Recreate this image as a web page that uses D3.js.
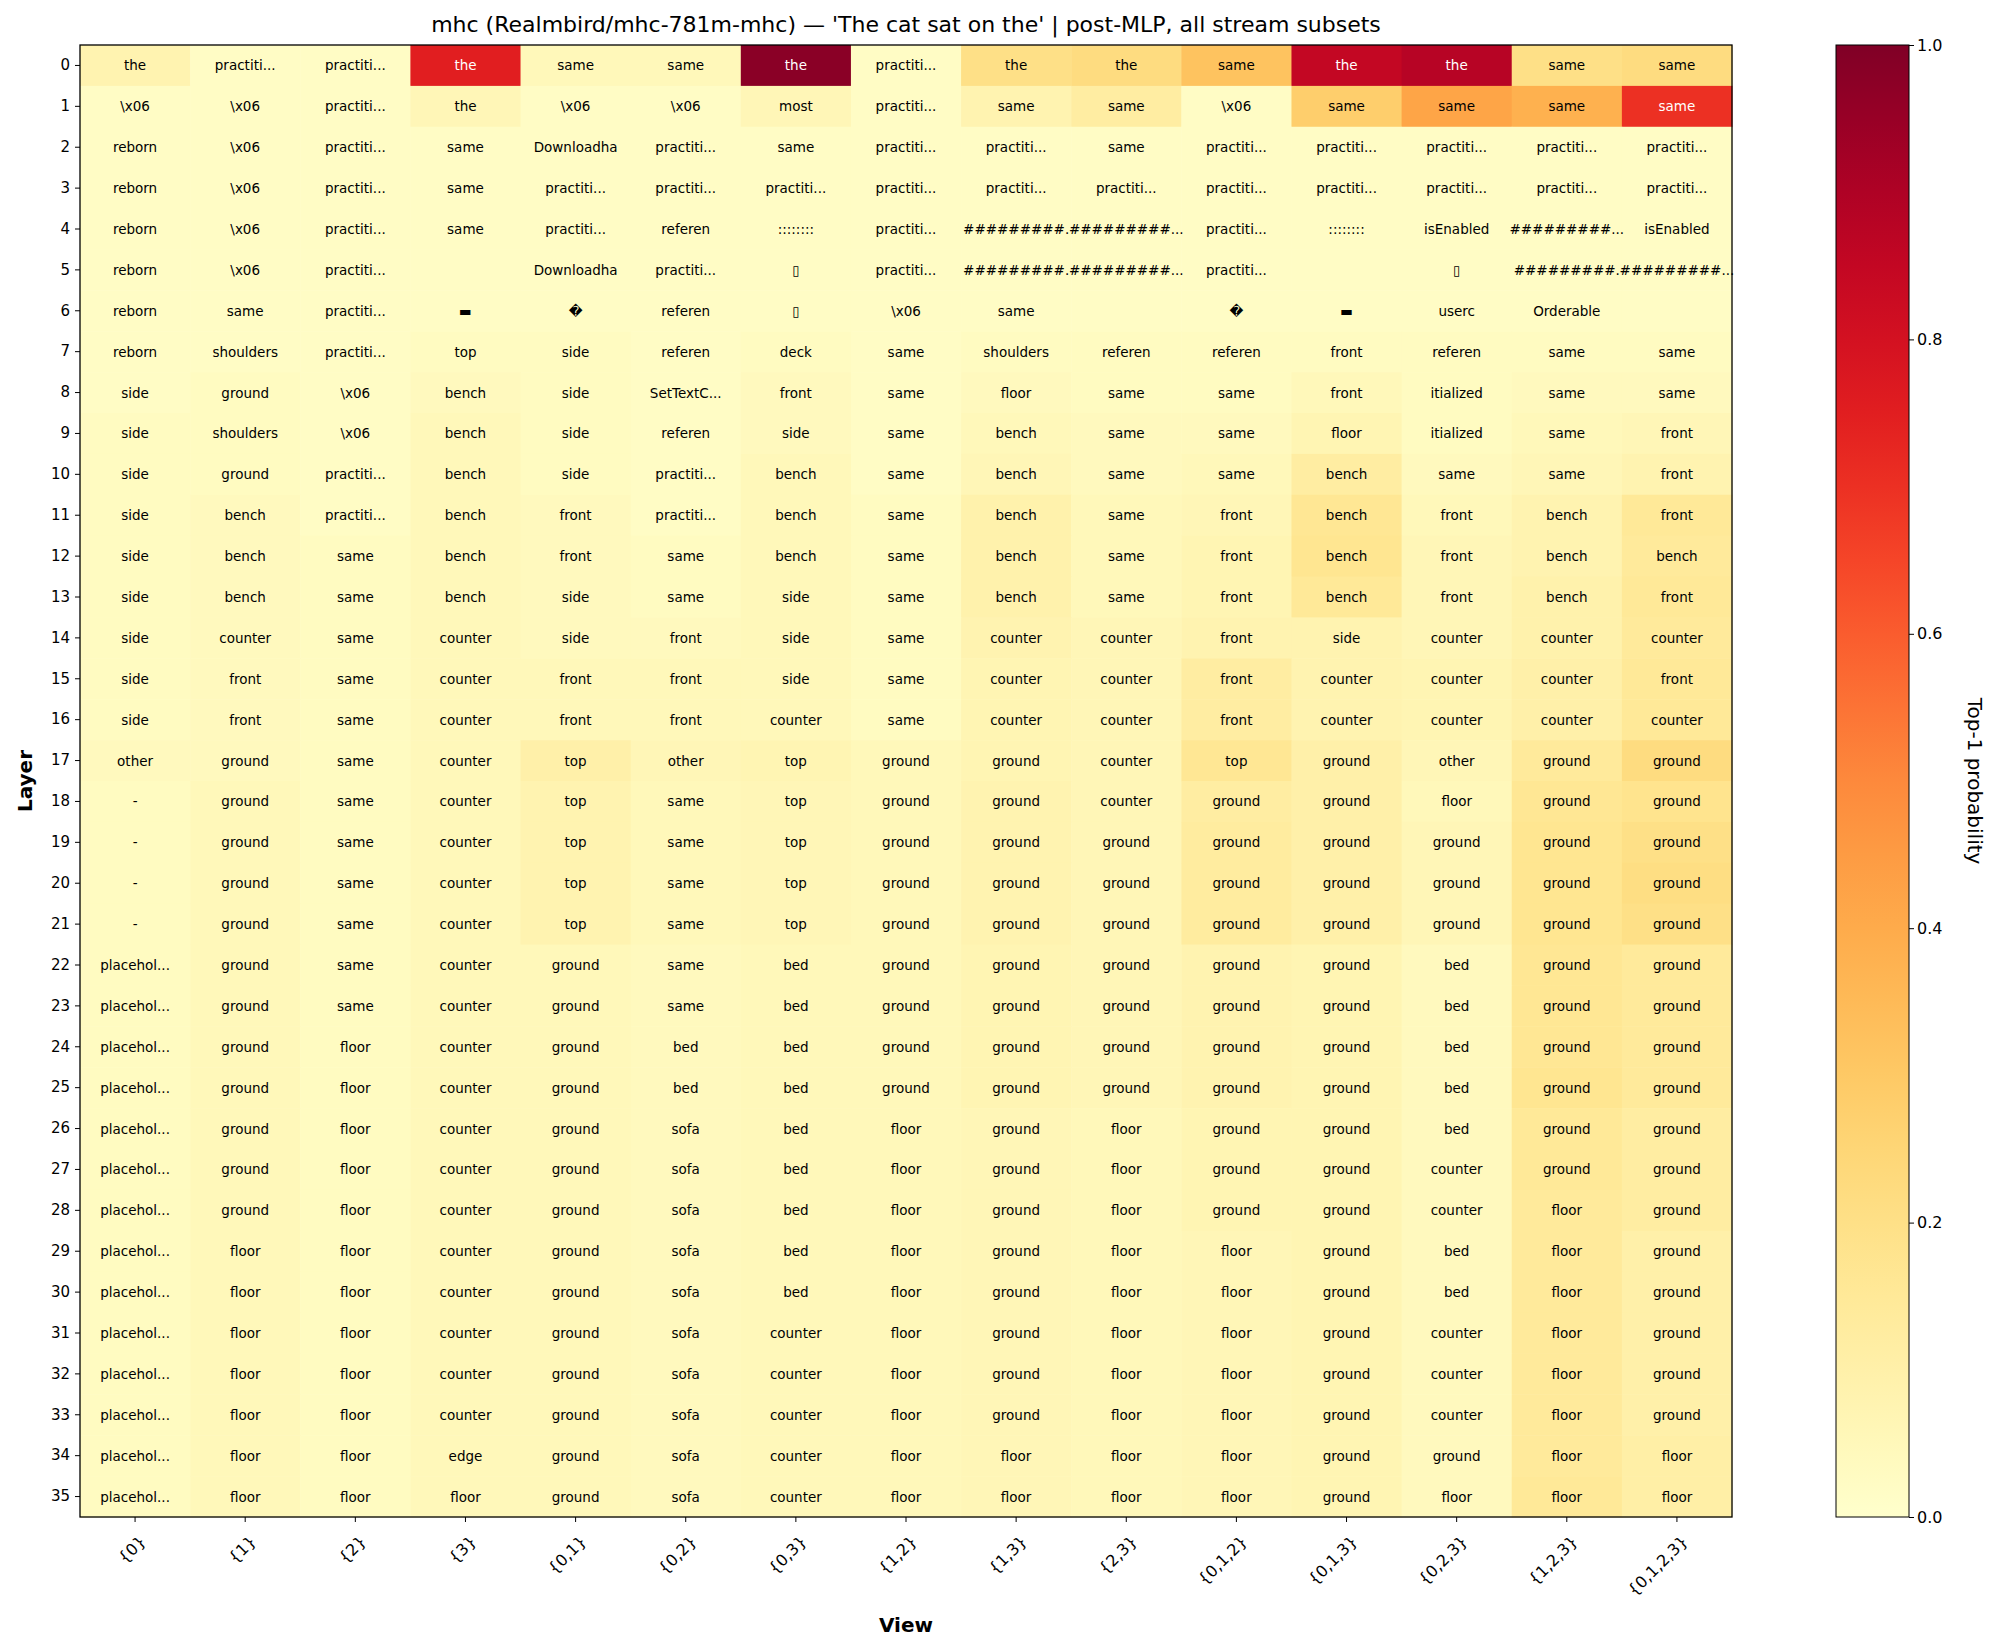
<!DOCTYPE html>
<html><head><meta charset="utf-8">
<script src="https://cdn.jsdelivr.net/npm/d3@7"></script>
<style>body{margin:0;background:#fff}svg{display:block;font-family:"DejaVu Sans",sans-serif}</style>
</head><body><svg id="c" width="1999" height="1652"></svg>
<script>
const views = ["{0}","{1}","{2}","{3}","{0,1}","{0,2}","{0,3}","{1,2}","{1,3}","{2,3}","{0,1,2}","{0,1,3}","{0,2,3}","{1,2,3}","{0,1,2,3}"];
const layers = d3.range(36).map(String);
const P="practiti...", X="\\x06", H1="#########.", H2="#########...", T="\u25AF", Q="\uFFFD", B="\u25AC", PL="placehol...";
const labels = [
["the",P,P,"the","same","same","the",P,"the","the","same","the","the","same","same"],
[X,X,P,"the",X,X,"most",P,"same","same",X,"same","same","same","same"],
["reborn",X,P,"same","Downloadha",P,"same",P,P,"same",P,P,P,P,P],
["reborn",X,P,"same",P,P,P,P,P,P,P,P,P,P,P],
["reborn",X,P,"same",P,"referen","::::::::",P,H1,H2,P,"::::::::","isEnabled",H2,"isEnabled"],
["reborn",X,P,"","Downloadha",P,T,P,H1,H2,P,"",T,H1,H2],
["reborn","same",P,B,Q,"referen",T,X,"same","",Q,B,"userc","Orderable",""],
["reborn","shoulders",P,"top","side","referen","deck","same","shoulders","referen","referen","front","referen","same","same"],
["side","ground",X,"bench","side","SetTextC...","front","same","floor","same","same","front","itialized","same","same"],
["side","shoulders",X,"bench","side","referen","side","same","bench","same","same","floor","itialized","same","front"],
["side","ground",P,"bench","side",P,"bench","same","bench","same","same","bench","same","same","front"],
["side","bench",P,"bench","front",P,"bench","same","bench","same","front","bench","front","bench","front"],
["side","bench","same","bench","front","same","bench","same","bench","same","front","bench","front","bench","bench"],
["side","bench","same","bench","side","same","side","same","bench","same","front","bench","front","bench","front"],
["side","counter","same","counter","side","front","side","same","counter","counter","front","side","counter","counter","counter"],
["side","front","same","counter","front","front","side","same","counter","counter","front","counter","counter","counter","front"],
["side","front","same","counter","front","front","counter","same","counter","counter","front","counter","counter","counter","counter"],
["other","ground","same","counter","top","other","top","ground","ground","counter","top","ground","other","ground","ground"],
["-","ground","same","counter","top","same","top","ground","ground","counter","ground","ground","floor","ground","ground"],
["-","ground","same","counter","top","same","top","ground","ground","ground","ground","ground","ground","ground","ground"],
["-","ground","same","counter","top","same","top","ground","ground","ground","ground","ground","ground","ground","ground"],
["-","ground","same","counter","top","same","top","ground","ground","ground","ground","ground","ground","ground","ground"],
[PL,"ground","same","counter","ground","same","bed","ground","ground","ground","ground","ground","bed","ground","ground"],
[PL,"ground","same","counter","ground","same","bed","ground","ground","ground","ground","ground","bed","ground","ground"],
[PL,"ground","floor","counter","ground","bed","bed","ground","ground","ground","ground","ground","bed","ground","ground"],
[PL,"ground","floor","counter","ground","bed","bed","ground","ground","ground","ground","ground","bed","ground","ground"],
[PL,"ground","floor","counter","ground","sofa","bed","floor","ground","floor","ground","ground","bed","ground","ground"],
[PL,"ground","floor","counter","ground","sofa","bed","floor","ground","floor","ground","ground","counter","ground","ground"],
[PL,"ground","floor","counter","ground","sofa","bed","floor","ground","floor","ground","ground","counter","floor","ground"],
[PL,"floor","floor","counter","ground","sofa","bed","floor","ground","floor","floor","ground","bed","floor","ground"],
[PL,"floor","floor","counter","ground","sofa","bed","floor","ground","floor","floor","ground","bed","floor","ground"],
[PL,"floor","floor","counter","ground","sofa","counter","floor","ground","floor","floor","ground","counter","floor","ground"],
[PL,"floor","floor","counter","ground","sofa","counter","floor","ground","floor","floor","ground","counter","floor","ground"],
[PL,"floor","floor","counter","ground","sofa","counter","floor","ground","floor","floor","ground","counter","floor","ground"],
[PL,"floor","floor","edge","ground","sofa","counter","floor","floor","floor","floor","ground","ground","floor","floor"],
[PL,"floor","floor","floor","ground","sofa","counter","floor","floor","floor","floor","ground","floor","floor","floor"]
];
const probs = [
[.08,.02,.02,.75,.05,.05,.98,.02,.2,.22,.32,.85,.88,.2,.22],
[.02,.02,.02,.06,.02,.02,.06,.02,.08,.12,.02,.28,.42,.38,.7],
[.02,.02,.02,.02,.02,.02,.02,.02,.02,.02,.02,.02,.02,.02,.02],
[.02,.02,.02,.02,.02,.02,.02,.02,.02,.02,.02,.02,.02,.02,.02],
[.02,.02,.02,.02,.02,.02,.02,.02,.02,.02,.02,.02,.02,.02,.02],
[.02,.02,.02,.02,.02,.02,.02,.02,.02,.02,.02,.02,.02,.02,.02],
[.02,.02,.02,.02,.02,.02,.02,.02,.02,.02,.02,.02,.02,.02,.02],
[.02,.02,.02,.03,.03,.02,.03,.02,.03,.03,.03,.03,.03,.03,.03],
[.02,.03,.02,.04,.03,.02,.04,.02,.04,.03,.03,.05,.03,.04,.04],
[.03,.03,.02,.05,.03,.02,.04,.02,.05,.04,.04,.07,.03,.05,.06],
[.03,.03,.02,.05,.03,.02,.05,.02,.06,.04,.05,.12,.04,.06,.08],
[.03,.04,.02,.05,.04,.02,.05,.03,.09,.05,.06,.16,.05,.08,.15],
[.03,.04,.03,.05,.04,.03,.05,.03,.09,.05,.07,.17,.06,.08,.14],
[.03,.04,.03,.05,.04,.03,.05,.03,.09,.05,.07,.15,.06,.09,.15],
[.03,.04,.03,.05,.04,.04,.05,.03,.08,.06,.08,.08,.06,.09,.14],
[.03,.04,.03,.05,.05,.05,.05,.03,.07,.06,.12,.08,.07,.10,.15],
[.03,.04,.03,.05,.05,.05,.05,.03,.07,.06,.12,.08,.07,.10,.15],
[.04,.04,.03,.05,.10,.06,.07,.05,.07,.06,.16,.10,.06,.14,.22],
[.03,.05,.03,.05,.08,.05,.06,.05,.08,.06,.12,.10,.05,.16,.18],
[.03,.05,.03,.05,.08,.05,.06,.05,.08,.06,.13,.10,.06,.17,.20],
[.03,.05,.03,.05,.08,.05,.06,.05,.08,.06,.13,.10,.06,.17,.21],
[.03,.05,.03,.05,.08,.05,.06,.05,.08,.06,.13,.10,.06,.17,.20],
[.03,.05,.03,.05,.05,.04,.05,.05,.07,.06,.08,.07,.04,.16,.14],
[.03,.05,.03,.05,.05,.04,.05,.05,.07,.06,.08,.07,.04,.16,.14],
[.03,.05,.03,.05,.05,.04,.05,.05,.07,.06,.08,.07,.04,.16,.14],
[.03,.05,.03,.05,.05,.04,.05,.05,.07,.06,.08,.07,.04,.17,.14],
[.03,.05,.03,.05,.05,.04,.05,.05,.06,.05,.07,.07,.04,.15,.12],
[.03,.05,.03,.05,.05,.04,.05,.05,.06,.05,.07,.07,.04,.15,.12],
[.03,.05,.03,.05,.05,.04,.05,.05,.06,.05,.07,.07,.04,.14,.12],
[.03,.05,.03,.05,.05,.04,.05,.05,.06,.05,.06,.07,.04,.14,.10],
[.03,.05,.03,.05,.05,.04,.05,.05,.06,.05,.06,.07,.04,.14,.10],
[.03,.05,.03,.05,.05,.04,.05,.05,.06,.05,.06,.07,.04,.14,.10],
[.03,.05,.03,.05,.05,.04,.05,.05,.06,.05,.06,.07,.04,.14,.10],
[.03,.05,.03,.05,.05,.04,.05,.05,.06,.05,.06,.07,.04,.14,.10],
[.03,.05,.03,.05,.05,.04,.05,.05,.06,.05,.06,.07,.04,.14,.11],
[.03,.05,.03,.05,.05,.04,.05,.05,.06,.05,.06,.07,.04,.15,.11]
];
const cbTicks = [0,0.2,0.4,0.6,0.8,1.0];

const svg = d3.select("#c");
const L=80,R=1732,Tp=45,Bt=1517;
const x = d3.scaleBand().domain(views).range([L,R]);
const y = d3.scaleBand().domain(layers).range([Tp,Bt]);
const color = d3.scaleSequential(d3.interpolateYlOrRd).domain([0,1]);

const cells=[];
probs.forEach((row,i)=>row.forEach((v,j)=>cells.push({r:layers[i],c:views[j],v,t:labels[i][j]})));
svg.append("g").selectAll("rect").data(cells).join("rect")
  .attr("x",d=>x(d.c)).attr("y",d=>y(d.r)).attr("width",x.bandwidth()+0.5).attr("height",y.bandwidth()+0.5)
  .attr("fill",d=>color(d.v));
svg.append("g").selectAll("text").data(cells).join("text")
  .attr("x",d=>x(d.c)+x.bandwidth()/2).attr("y",d=>y(d.r)+y.bandwidth()/2)
  .attr("text-anchor","middle").attr("dominant-baseline","central")
  .attr("font-size",13.5).attr("fill",d=>d.v>0.5?"#fff":"#000").text(d=>d.t);
svg.append("rect").attr("x",L).attr("y",Tp).attr("width",R-L).attr("height",Bt-Tp).attr("fill","none").attr("stroke","#000").attr("stroke-width",1.3);

const ya=svg.append("g").attr("transform",`translate(${L},0)`).call(d3.axisLeft(y).tickSize(5).tickPadding(5));
ya.select(".domain").remove(); ya.selectAll("text").attr("font-size",15).attr("font-family","DejaVu Sans");
const xa=svg.append("g").attr("transform",`translate(0,${Bt})`).call(d3.axisBottom(x).tickSize(5));
xa.select(".domain").remove();
xa.selectAll("text").attr("font-size",16).attr("font-family","DejaVu Sans")
  .attr("text-anchor","end").attr("dy",0).attr("transform","translate(6,20) rotate(-45)");

svg.append("text").attr("x",(L+R)/2).attr("y",32).attr("text-anchor","middle").attr("font-size",22).text("mhc (Realmbird/mhc-781m-mhc) \u2014 'The cat sat on the' | post-MLP, all stream subsets");
svg.append("text").attr("x",(L+R)/2).attr("y",1632).attr("text-anchor","middle").attr("font-size",20).attr("font-weight","bold").text("View");
svg.append("text").attr("transform",`translate(32,${(Tp+Bt)/2}) rotate(-90)`).attr("text-anchor","middle").attr("font-size",20).attr("font-weight","bold").text("Layer");

const cx=1836,cw=73;
const defs=svg.append("defs");
const gr=defs.append("linearGradient").attr("id","g").attr("x1",0).attr("y1",1).attr("x2",0).attr("y2",0);
d3.range(0,1.001,0.05).forEach(t=>gr.append("stop").attr("offset",t).attr("stop-color",color(t)));
svg.append("rect").attr("x",cx).attr("y",Tp).attr("width",cw).attr("height",Bt-Tp).attr("fill","url(#g)").attr("stroke","#000").attr("stroke-width",1);
const cy=d3.scaleLinear().domain([0,1]).range([Bt,Tp]);
const ca=svg.append("g").attr("transform",`translate(${cx+cw},0)`).call(d3.axisRight(cy).tickValues(cbTicks).tickFormat(d3.format(".1f")).tickSize(5));
ca.select(".domain").remove(); ca.selectAll("text").attr("font-size",16).attr("font-family","DejaVu Sans");
svg.append("text").attr("transform",`translate(1968,${(Tp+Bt)/2}) rotate(90)`).attr("text-anchor","middle").attr("font-size",20).text("Top-1 probability");
</script></body></html>
